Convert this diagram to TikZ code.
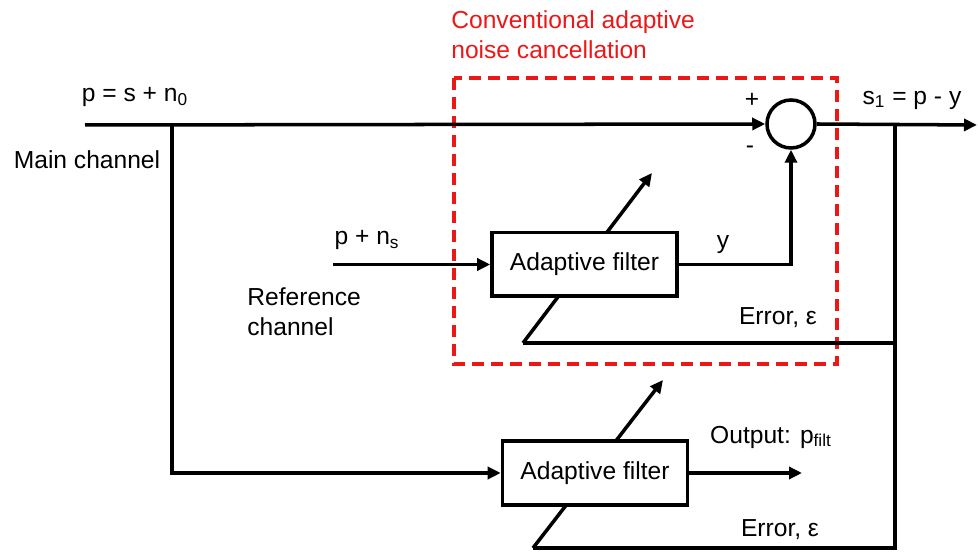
\documentclass[tikz,border=0pt]{standalone}
\usepackage{fontspec}
\setmainfont{Liberation Sans}
\usetikzlibrary{arrows.meta}
\definecolor{ancred}{RGB}{236,24,24}

\begin{document}
\begin{tikzpicture}[
		every node/.style={font=\fontsize{14}{17}\selectfont},
		filterbox/.style={rectangle, draw, fill=white, line width=2pt, minimum width=3.7cm, minimum height=1.27cm},
		summer/.style={circle, draw, line width=2pt, minimum size=0.96cm, inner sep=0pt},
		wire/.style={line width=2pt},
		signal/.style={wire, -{Triangle[length=2.6mm, width=2.4mm]}}
	]
  \useasboundingbox (0cm, 0cm) rectangle (19.56cm, -11.04cm);
  % corner and end points
  \coordinate (in) at (1.7cm, -2.5cm);
  \coordinate (j_main) at (3.44cm, -2.5cm);
  \coordinate (j_err) at (17.9cm, -2.5cm);
  \coordinate (j_err1) at (17.9cm, -6.86cm);
  \coordinate (j_err2) at (17.9cm, -10.96cm);
  \coordinate (out) at (19.54cm, -2.5cm);
  \coordinate (ref) at (6.66cm, -5.29cm);
  \coordinate (e_1) at (10.46cm, -6.86cm);
  \coordinate (t_1) at (13.04cm, -3.46cm);
  \coordinate (e_2) at (10.66cm, -10.96cm);
  \coordinate (t_2) at (13.26cm, -7.6cm);
  \coordinate (p_out) at (16.04cm, -9.46cm);
  % adaptation arrows go under the boxes
  \draw [signal] (e_1) -- (t_1);
  \draw [signal] (e_2) -- (t_2);
  \node (sum) [summer] at (15.82cm, -2.48cm) {};
  \node (f_1) [filterbox] at (11.69cm, -5.29cm) {Adaptive filter};
  \node (f_2) [filterbox] at (11.9cm, -9.46cm) {Adaptive filter};
  % red frame
  \draw [ancred, line width=1.8pt, dash pattern=on 2.4mm off 1.4mm] (9.08cm, -1.56cm) rectangle (16.74cm, -7.28cm);
  \node (anc) [ancred, anchor=north west, align=left, inner sep=0pt] at (9.02cm, -0.2cm) {Conventional adaptive\\noise cancellation};
  % signal paths
  \draw [signal] (in) -- (sum.west);
  \draw [signal] (sum.east) -- (out);
  \draw [signal] (ref) -- (f_1.west);
  \draw [signal] (f_1.east) -| (sum.south);
  \draw [signal] (j_main) |- (f_2.west);
  \draw [signal] (f_2.east) -- (p_out);
  \draw [wire] (j_err) -- (j_err2) -- (e_2);
  \draw [wire] (j_err1) -- (e_1);
  % labels
  \node (p_lbl) at (2.7cm, -1.94cm) {p = s + n\textsubscript{0}};
  \node (main_lbl) at (1.74cm, -3.2cm) {Main channel};
  \node (s_lbl) at (18.24cm, -2.0cm) {s\textsubscript{1} = p - y};
  \node (plus) at (15.04cm, -2.0cm) {+};
  \node (minus) at (15.0cm, -3.0cm) {-};
  \node (y_lbl) at (14.46cm, -4.9cm) {y};
  \node (ref_lbl) at (7.34cm, -4.8cm) {p + n\textsubscript{s}};
  \node (refch_lbl) [anchor=west, align=left, inner sep=0pt] at (4.94cm, -6.24cm) {Reference\\channel};
  \node (err_1) at (15.56cm, -6.36cm) {Error, ε};
  \node (out_lbl) at (15.42cm, -8.74cm) {Output: p\textsubscript{filt}};
  \node (err_2) at (15.6cm, -10.6cm) {Error, ε};
\end{tikzpicture}
\end{document}
